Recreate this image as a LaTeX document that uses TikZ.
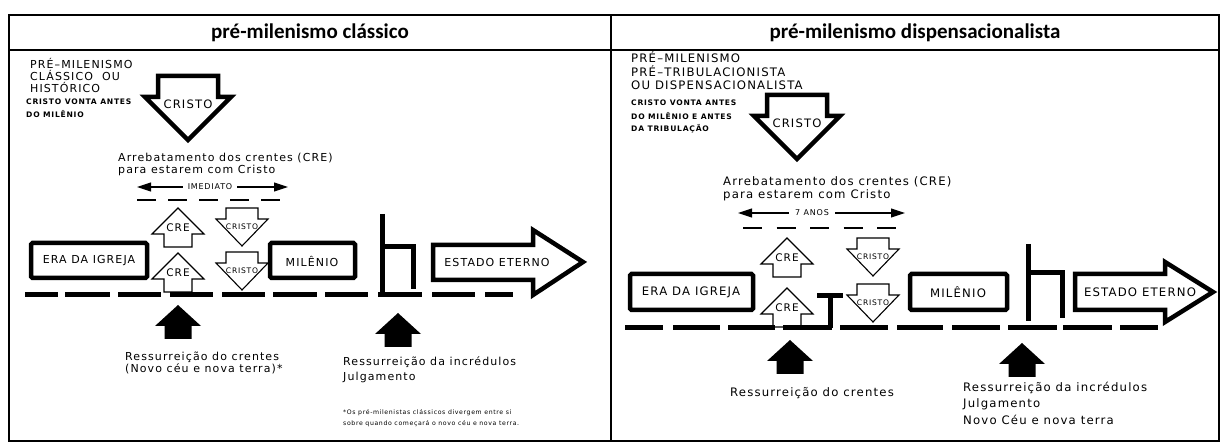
\documentclass[tikz,border=0pt]{standalone}
\usepackage{fontspec}
\setmainfont{DejaVu Sans}
\newfontfamily\cad[LetterSpace=10]{DejaVu Sans}
\newfontfamily\hdrfont{Carlito}[BoldFont={Carlito Bold}]
\usetikzlibrary{arrows.meta}
\tikzset{
  thinl/.style={line width=1.1pt,line join=miter},
  bigl/.style={line width=4.5pt,line join=miter},
  cretxt/.style={inner sep=0pt,font=\cad\fontsize{10.5}{12}\selectfont},
  smcristo/.style={inner sep=0pt,font=\cad\fontsize{7.6}{9}\selectfont},
  bigcristo/.style={inner sep=0pt,font=\cad\fontsize{11.6}{13}\selectfont},
  creup/.pic={
    \draw[thinl] (0,0) -- (26,26) -- (14,26) -- (14,39) -- (-14,39) -- (-14,26) -- (-26,26) -- cycle;
    \node[cretxt] (-t) at (0,20) {CRE};},
  cristodn/.pic={
    \draw[thinl] (-16,0) -- (16,0) -- (16,11) -- (26,11) -- (0,38) -- (-26,11) -- (-16,11) -- cycle;
    \node[smcristo] (-t) at (0,18.5) {CRISTO};},
  bigdn/.pic={
    \draw[bigl] (-30,0) -- (30,0) -- (30,21) -- (43,21) -- (0,64) -- (-43,21) -- (-30,21) -- cycle;
    \node[bigcristo] (-t) at (0,28) {CRISTO};},
  blackup/.pic={
    \fill (0,0) -- (23,21) -- (13.5,21) -- (13.5,34) -- (-13.5,34) -- (-13.5,21) -- (-23,21) -- cycle;},
}
\begin{document}
\begin{tikzpicture}[x=1pt,y=-1pt,
  frame/.style={line width=2.6pt},
  tline/.style={line width=5pt},
  ebox/.style={draw,line width=4.5pt,rounded corners=1.5pt},
  hdr/.style={inner sep=0pt,font=\hdrfont\bfseries\fontsize{21}{24}\selectfont},
  tx/.style={inner sep=0pt,anchor=west},
  fL/.style={font=\cad\fontsize{11}{13}\selectfont},
  fR/.style={font=\cad\fontsize{11.7}{13}\selectfont},
  fsm/.style={font=\cad\bfseries\fontsize{7.6}{9}\selectfont},
  fnote/.style={font=\cad\fontsize{6.2}{8}\selectfont},
  fmid/.style={font=\cad\fontsize{8}{10}\selectfont},
  tip/.style={-{Triangle[length=14pt,width=9pt]}},
]
\useasboundingbox (0,0) rectangle (1226,443);
% frame
\draw[frame] (9,15) rectangle (1219,441);
\draw[frame] (9,50) -- (1219,50);
\draw[frame] (611,15) -- (611,441);
\node[hdr] (h1) at (310,32.5) {pré-milenismo clássico};
\node[hdr] (h2) at (915,32.5) {pré-milenismo dispensacionalista};

% ---------------- left panel ----------------
\node[tx,fL] (l1) at (30,63) {PRÉ–MILENISMO};
\node[tx,fL] (l2) at (30,75) {CLÁSSICO\ \ OU};
\node[tx,fL] (l3) at (30,87) {HISTÓRICO};
\node[tx,fsm] (l4) at (26,102) {CRISTO VONTA ANTES};
\node[tx,fsm] (l5) at (26,114) {DO MILÊNIO};
\pic (bigL) at (188,76) {bigdn};
\node[tx,fL] (arrL1) at (118,158) {Arrebatamento dos crentes (CRE)};
\node[tx,fL] (arrL2) at (118,170) {para estarem com Cristo};
\node[fmid,inner sep=0pt] (imed) at (210,187) {IMEDIATO};
\coordinate (imL) at (137,187);
\coordinate (imR) at (288,187);
\draw[thinl,tip] ([xshift=-5pt]imed.west) -- (imL);
\draw[thinl,tip] ([xshift=5pt]imed.east) -- (imR);
\draw[thinl,dash pattern=on 19pt off 12pt] (137,200) -- (280,200);
\pic (creL1) at (178,208) {creup};
\pic (creL2) at (178,253) {creup};
\pic (crsL1) at (242,208) {cristodn};
\pic (crsL2) at (242,252) {cristodn};
\draw[ebox] (31,243) rectangle (147,278);
\node[fL,inner sep=0pt] (eraL) at (89,261) {ERA DA IGREJA};
\draw[ebox] (270,243) rectangle (355,278);
\node[fL,inner sep=0pt] (milL) at (312,261) {MILÊNIO};
\draw[tline] (382,214) -- (382,293);
\draw[tline,line join=miter] (382,247) -- (413,247) -- (413,289);
\draw[bigl] (433,245) -- (533,245) -- (533,230) -- (583,262) -- (533,295) -- (533,280) -- (433,280) -- cycle;
\node[fL,inner sep=0pt] (estL) at (497,262) {ESTADO ETERNO};
\foreach \a/\b in {25/58,65/110,118/161,170/213,222/265,273/317,325/368,378/422,432/475,485/513}
  \draw[tline] (\a,295) -- (\b,295);
\pic (bkL1) at (178,305) {blackup};
\pic (bkL2) at (398,313) {blackup};
\node[tx,fL] (resL1) at (125,357) {Ressurreição do crentes};
\node[tx,fL] (resL2) at (125,369) {(Novo céu e nova terra)*};
\node[tx,fL] (incL1) at (343,362) {Ressurreição da incrédulos};
\node[tx,fL] (incL2) at (343,377) {Julgamento};
\node[tx,fnote] (noteL1) at (343,413) {*Os pré-milenistas clássicos divergem entre si};
\node[tx,fnote] (noteL2) at (343,424) {sobre quando começará o novo céu e nova terra.};

% ---------------- right panel ----------------
\node[tx,fR] (r1) at (631,57) {PRÉ–MILENISMO};
\node[tx,fR] (r2) at (631,71) {PRÉ–TRIBULACIONISTA};
\node[tx,fR] (r3) at (631,85) {OU DISPENSACIONALISTA};
\node[tx,fsm] (r4) at (631,103) {CRISTO VONTA ANTES};
\node[tx,fsm] (r5) at (631,116) {DO MILÊNIO E ANTES};
\node[tx,fsm] (r6) at (631,129) {DA TRIBULAÇÃO};
\pic (bigR) at (797,95) {bigdn};
\node[tx,fR] (arrR1) at (723,182) {Arrebatamento dos crentes (CRE)};
\node[tx,fR] (arrR2) at (723,195) {para estarem com Cristo};
\node[fmid,inner sep=0pt] (anos) at (812,213) {7 ANOS};
\coordinate (anL) at (738,213);
\coordinate (anR) at (905,213);
\draw[thinl,tip] ([xshift=-6pt]anos.west) -- (anL);
\draw[thinl,tip] ([xshift=6pt]anos.east) -- (anR);
\draw[thinl,dash pattern=on 19pt off 14.5pt] (743,228) -- (897,228);
\pic (creR1) at (787,238) {creup};
\pic (creR2) at (787,288) {creup};
\pic (crsR1) at (873,238) {cristodn};
\pic (crsR2) at (873,284) {cristodn};
\draw[tline] (817,296) -- (843,296);
\draw[tline] (830,296) -- (830,328);
\draw[ebox] (630,274) rectangle (753,310);
\node[fR,inner sep=0pt] (eraR) at (691,292) {ERA DA IGREJA};
\draw[ebox] (910,274) rectangle (1007,310);
\node[fR,inner sep=0pt] (milR) at (958,292) {MILÊNIO};
\draw[tline] (1028,244) -- (1028,321);
\draw[tline,line join=miter] (1028,273) -- (1062,273) -- (1062,318);
\draw[bigl] (1075,274) -- (1165,274) -- (1165,262) -- (1213,292) -- (1165,322) -- (1165,310) -- (1075,310) -- cycle;
\node[fR,inner sep=0pt] (estR) at (1140,292) {ESTADO ETERNO};
\foreach \a/\b in {625/663,673/720,728/775,783/832,840/888,897/943,952/1000,1008/1057,1063/1112,1120/1158}
  \draw[tline] (\a,328) -- (\b,328);
\pic (bkR1) at (790,340) {blackup};
\pic (bkR2) at (1022,343) {blackup};
\node[tx,fR] (resR1) at (730,393) {Ressurreição do crentes};
\node[tx,fR] (incR1) at (963,388) {Ressurreição da incrédulos};
\node[tx,fR] (incR2) at (963,404) {Julgamento};
\node[tx,fR] (incR3) at (963,420) {Novo Céu e nova terra};
\end{tikzpicture}
\end{document}
